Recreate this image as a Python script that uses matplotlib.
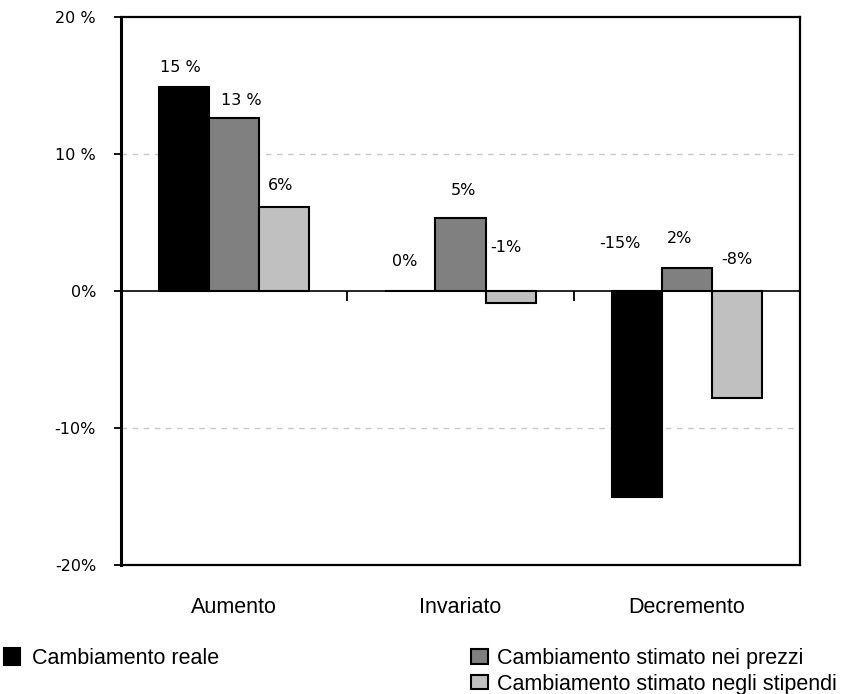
import numpy as np
import matplotlib
matplotlib.use('Agg')
import matplotlib.pyplot as plt

# categorie e serie (valori in %)
categories = ['Aumento', 'Invariato', 'Decremento']
series_names = ['Cambiamento reale',
                'Cambiamento stimato nei prezzi',
                'Cambiamento stimato negli stipendi']
reale = [14.9, 0.0, -15.0]
prezzi = [12.6, 5.3, 1.7]
stipendi = [6.1, -0.9, -7.8]

yticks = [-20, -10, 0, 10, 20]
ytick_labels = ['-20%', '-10%', '0%', '10 %', '20 %']

# separatore tra numero e % nelle etichette
label_sep = [[' ', '', ''], [' ', '', ''], ['', '', '']]

# spostamento etichette (pixel) rispetto alla cima della barra
label_offsets = [
    [(-4, 19), (-6, 29), (-17, 48)],
    [(7, 18), (3, 28), (-7, 29)],
    [(-4, 22), (-5, 43), (0, 31)],
]

colors = ['#000000', '#808080', '#C0C0C0']

fig = plt.figure(figsize=(8.57, 6.94), dpi=100)
ax = fig.add_axes([121/857, 1 - 565/694, (800 - 121)/857, (565 - 17)/694])

x = np.arange(len(categories))
w = 0.221
all_values = [reale, prezzi, stipendi]
bars = []
for i, vals in enumerate(all_values):
    b = ax.bar(x + (i - 1) * w, vals, w, color=colors[i], edgecolor='black',
               linewidth=1.5, label=series_names[i], zorder=3)
    bars.append(b)
    for j, v in enumerate(vals):
        txt = f'{round(v):.0f}{label_sep[i][j]}%'
        dx, dy = label_offsets[i][j]
        ax.annotate(txt, (x[j] + (i - 1) * w, max(v, 0)), xytext=(dx, dy),
                    textcoords='offset pixels', ha='center', va='center',
                    fontsize=11.5, family='DejaVu Sans', zorder=4)

ax.set_xlim(-0.5, 2.5)
ax.set_ylim(-20, 20)

ax.set_yticks(yticks)
ax.set_yticklabels(ytick_labels, fontsize=11.5, family='DejaVu Sans')
ax.tick_params(axis='y', direction='out', length=5, width=1.3, pad=13)

ax.set_xticks(x)
ax.set_xticklabels(categories, fontsize=15.5, family='Liberation Sans')
ax.tick_params(axis='x', length=0, pad=23)

for s in ['left', 'right', 'top', 'bottom']:
    ax.spines[s].set_linewidth(1.6)
ax.spines['left'].set_linewidth(2.2)

# linee guida tratteggiate
for yv in [10, -10]:
    ax.axhline(yv, color='#C8C8C8', linestyle=(0, (4, 4)), linewidth=1, zorder=1)

# asse dello zero con tacche tra le categorie
zero_axis = ax.secondary_xaxis(0.5)
zero_axis.set_alignment('bottom')
zero_axis.set_xticks([0.5, 1.5, 2.5])
zero_axis.set_xticklabels([])
zero_axis.tick_params(direction='out', length=7, width=1.3)
zero_axis.spines['bottom'].set_linewidth(1.2)

legend_font = {'family': 'Liberation Sans', 'size': 15.5}
fig.legend(handles=[bars[0]], labels=[series_names[0]],
           loc='upper left', bbox_to_anchor=(4/857, 1 - 648/694),
           frameon=False, prop=legend_font, borderpad=0, borderaxespad=0,
           handlelength=0.75, handleheight=0.85, handletextpad=0.55)
fig.legend(handles=bars[1:], labels=series_names[1:],
           loc='upper left', bbox_to_anchor=(471/857, 1 - 648/694),
           frameon=False, prop=legend_font, borderpad=0, borderaxespad=0,
           handlelength=0.8, handleheight=0.65, handletextpad=0.4,
           labelspacing=0.22)

fig.savefig('out.png', dpi=100)
